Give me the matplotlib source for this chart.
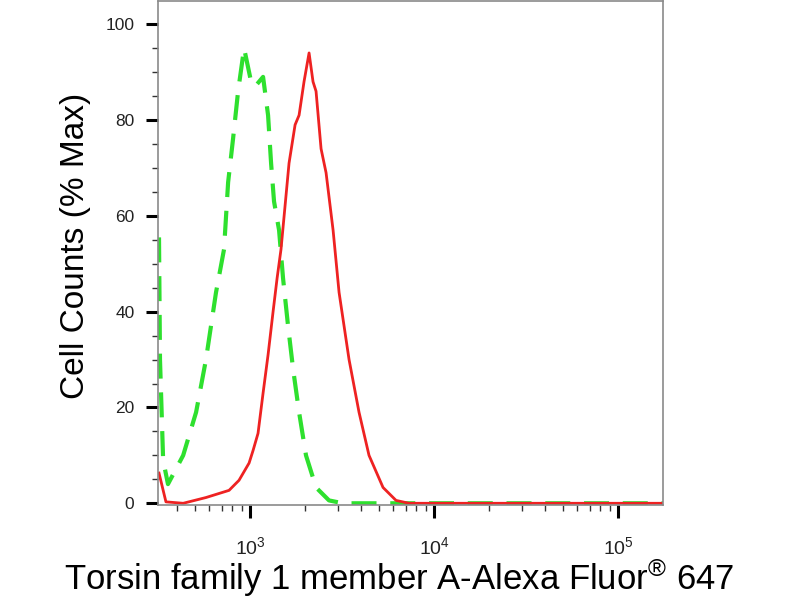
import math
import matplotlib
matplotlib.use("Agg")
import matplotlib.pyplot as plt
from matplotlib.ticker import LogLocator, FixedLocator, MultipleLocator, FuncFormatter

plt.rcParams['font.family'] = ['Liberation Sans', 'DejaVu Sans']
plt.rcParams['mathtext.fontset'] = 'custom'
plt.rcParams['mathtext.rm'] = 'Liberation Sans'
plt.rcParams['mathtext.it'] = 'Liberation Sans'
plt.rcParams['mathtext.bf'] = 'Liberation Sans'

# stained sample (red, solid)
red_x = [320, 349, 433, 576, 769, 871, 988, 1038, 1105, 1177, 1253, 1334, 1403,
         1473, 1629, 1757, 1847, 1965, 2093, 2199, 2284, 2432, 2589, 2827, 3047,
         3452, 3911, 4432, 5282, 6215, 7310, 20000, 176000]
red_y = [6.3, 0.3, 0, 1.2, 2.7, 4.8, 8.4, 11, 14.6, 23, 31, 40, 47,
         53, 71, 79, 81, 88, 94, 88, 86, 74, 69, 57, 44,
         30, 19, 10, 3.3, 0.6, 0, 0, 0]

# isotype control (green, dashed)
green_x = [320, 324, 337, 358, 433, 509, 576, 653, 722, 760, 808, 861, 928,
           1013, 1065, 1177, 1253, 1301, 1350, 1438, 1511, 1609, 1714, 1847,
           2014, 2284, 2686, 3201, 20000, 176000]
green_y = [55.5, 30, 9, 4, 10, 19, 30, 44, 53, 67, 76, 86, 95,
           88, 87, 89, 81, 71, 63, 57, 47, 37, 28, 19,
           10, 3.3, 0.6, 0, 0, 0]

x_major = [1e3, 1e4, 1e5]
y_major = [0, 20, 40, 60, 80, 100]

fig = plt.figure(figsize=(8, 6), dpi=100)
ax = fig.add_axes([0.1975, 0.158, 0.6315, 0.840])

ax.plot(green_x, green_y, color='#2ee02e', lw=3, linestyle=(0, (6, 3.3)))
ax.plot(red_x, red_y, color='#ee2222', lw=2)

ax.set_xscale('log')
ax.set_xlim(316, 176000)
ax.set_ylim(-0.4, 104.8)

ax.xaxis.set_major_locator(FixedLocator(x_major))
ax.xaxis.set_minor_locator(LogLocator(base=10, subs=range(2, 10)))
ax.xaxis.set_major_formatter(FuncFormatter(lambda v, p: r'$10^{%d}$' % round(math.log10(v))))
ax.xaxis.set_minor_formatter(FuncFormatter(lambda v, p: ''))
ax.yaxis.set_major_locator(FixedLocator(y_major))
ax.yaxis.set_minor_locator(MultipleLocator(5))

for s in ax.spines.values():
    s.set_color('#8a8a8a')
    s.set_linewidth(1.2)

ax.tick_params(axis='both', which='major', direction='out', length=9, width=2.2,
               color='black')
ax.tick_params(axis='both', which='minor', direction='out', length=4.5, width=1,
               color='#333333')
ax.tick_params(axis='y', which='major', labelsize=12.5, labelcolor='#222222', pad=8)
ax.tick_params(axis='x', which='major', labelsize=14, labelcolor='#222222', pad=13)

fig.text(0.094, 0.59, 'Cell Counts (% Max)', rotation=90, fontsize=24,
         ha='center', va='center')
fig.text(0.4985, 0.037, 'Torsin family 1 member A-Alexa Fluor$^{®}$ 647',
         fontsize=25, ha='center', va='center')

fig.savefig('out.png', dpi=100)
